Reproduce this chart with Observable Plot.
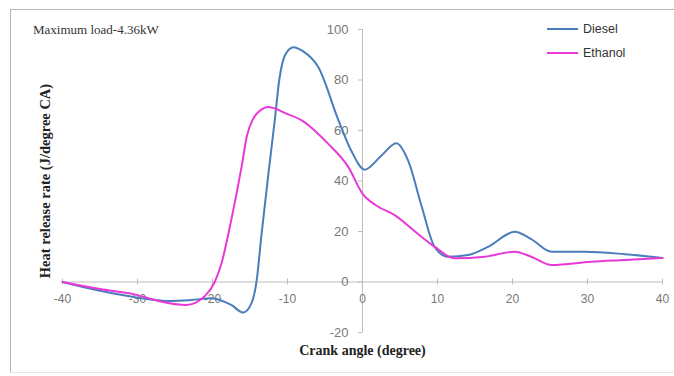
<!DOCTYPE html>
<html><head><meta charset="utf-8">
<script src="https://cdn.jsdelivr.net/npm/d3@7"></script>
<script src="https://cdn.jsdelivr.net/npm/@observablehq/plot@0.6"></script>
<style>
body{margin:0;background:#fff;}
#wrap{position:relative;width:674px;height:376px;overflow:hidden;background:#fff;}
#frame{position:absolute;left:10px;top:9px;width:680px;height:362px;border-top:1.5px solid #b5b5b5;border-left:1.5px solid #b5b5b5;border-bottom:1px solid #e6e6e6;}
#title{position:absolute;left:33px;top:22px;font-family:"Liberation Serif",serif;font-size:13px;color:#333;}
.leg{position:absolute;left:547px;font-family:"Liberation Sans",sans-serif;font-size:12.5px;color:#333;display:flex;align-items:center;}
.leg span.sw{display:inline-block;width:31px;height:2px;margin-right:5px;}
</style></head>
<body><div id="wrap"><div id="frame"></div><div id="title">Maximum load-4.36kW</div>
<div class="leg" style="top:22px"><span class="sw" style="background:#4a7ebb"></span>Diesel</div>
<div class="leg" style="top:46px"><span class="sw" style="background:#e838d8"></span>Ethanol</div>
</div>
<script>
const dieselX = [-40,-35,-30,-26,-22.8,-20.1,-17.5,-15.9,-14.8,-14.1,-13.5,-12.5,-11.7,-11.1,-10.3,-9.2,-8,-5.9,-3.2,-1.5,0.3,2.5,4.5,6.1,7.9,9.6,11.4,14.1,16.8,20.3,22.5,25.2,29.6,35,40];
const dieselY = [0,-3.5,-6.2,-7.5,-7.1,-6.4,-9.1,-12.1,-8.4,0.8,17.9,44,64,80,90,93,91.5,85.1,64,52,44.5,50,55,48,29.8,14,10,10.7,14,19.9,17,12,12,11,9.5];
const ethanolX = [-40,-35,-30.4,-27.2,-23.5,-21,-19.7,-18.8,-17.5,-16.1,-15.4,-14.6,-13.6,-12.6,-10,-8.1,-4.6,-1.9,0,2,4.3,7,9.6,12.3,16.3,20.3,22.5,25.2,30.5,35,40];
const ethanolY = [0,-2.8,-4.9,-7.5,-9.1,-5.5,0,7.4,24.5,46,58,64.5,68,69.3,66.5,64,54.8,45.6,35,30,26.5,20,14,9.4,10,12,10,6.7,8,8.7,9.5];
const xTicks = [-40,-30,-20,-10,0,10,20,30,40];
const yTicks = [-20,0,20,40,60,80,100];

const diesel = dieselX.map((x,i)=>({x, y: dieselY[i]}));
const ethanol = ethanolX.map((x,i)=>({x, y: ethanolY[i]}));

const chart = Plot.plot({
  width: 674, height: 376,
  marginLeft: 62, marginRight: 12, marginTop: 29, marginBottom: 44,
  x: {domain: [-40, 40], axis: null},
  y: {domain: [-20, 100], axis: null},
  style: {background: "transparent", overflow: "visible"},
  marks: [
    Plot.ruleY([0], {stroke: "#bdbdbd", strokeWidth: 1}),
    Plot.ruleX([0], {stroke: "#bdbdbd", strokeWidth: 1}),
    Plot.ruleX(xTicks, {x: d=>d, y1: 0, y2: 0, insetTop: -3, insetBottom: -3, stroke: "#bdbdbd"}),
    Plot.ruleY(yTicks, {y: d=>d, x1: 0, x2: 0, insetLeft: -4, insetRight: 0, stroke: "#bdbdbd"}),
    Plot.text(xTicks, {x: d=>d, y: 0, dy: 17, text: d=>String(d), fontFamily: "Liberation Sans, sans-serif", fontSize: 12, fill: "#777"}),
    Plot.text(yTicks, {x: 0, y: d=>d, dx: -14, textAnchor: "end", text: d=>String(d), fontFamily: "Liberation Sans, sans-serif", fontSize: 13, fill: "#777"}),
    Plot.line(diesel, {x: "x", y: "y", stroke: "#4a7ebb", strokeWidth: 2, curve: "monotone-x"}),
    Plot.line(ethanol, {x: "x", y: "y", stroke: "#e838d8", strokeWidth: 2, curve: "monotone-x"}),
    Plot.text(["Crank angle (degree)"], {frameAnchor: "bottom", dy: 22, text: d=>d, fontFamily: "Liberation Serif, serif", fontWeight: "bold", fontSize: 14, fill: "#222"}),
    Plot.text(["Heat release rate (J/degree CA)"], {frameAnchor: "left", textAnchor: "middle", dx: -17, rotate: -90, text: d=>d, fontFamily: "Liberation Serif, serif", fontWeight: "bold", fontSize: 14.5, fill: "#222"})
  ]
});
chart.style.position = "absolute";
chart.style.left = "0px";
chart.style.top = "0px";
document.getElementById("wrap").appendChild(chart);
</script>
</body></html>
